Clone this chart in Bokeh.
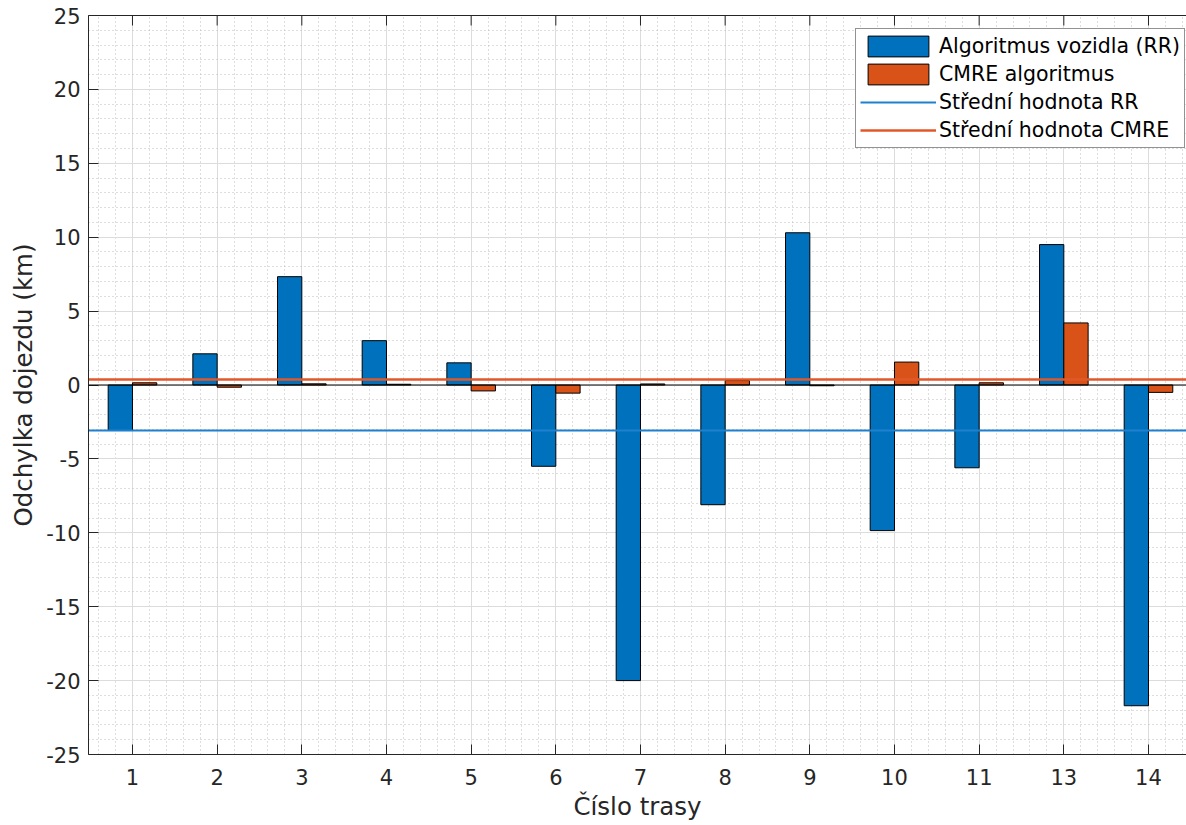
import numpy as np
from bokeh.plotting import figure
from bokeh.models import (Range1d, FixedTicker, LinearAxis, Span, Legend, LegendItem,
                          ColumnDataSource)
from bokeh.embed import file_html
from bokeh.resources import INLINE

# ---- data ----
routes = ["1", "2", "3", "4", "5", "6", "7", "8", "9", "10", "11", "13", "14"]
rr_values = [-3.08, 2.11, 7.33, 3.0, 1.5, -5.5, -20.0, -8.1, 10.3, -9.85, -5.6, 9.5, -21.7]
cmre_values = [0.15, -0.15, 0.08, 0.05, -0.4, -0.55, 0.07, 0.3, -0.05, 1.55, 0.15, 4.2, -0.5]
y_ticks = [-25, -20, -15, -10, -5, 0, 5, 10, 15, 20, 25]

series_names = ["Algoritmus vozidla (RR)", "CMRE algoritmus"]
mean_names = ["Střední hodnota RR", "Střední hodnota CMRE"]

BLUE = "#0072BD"
ORANGE = "#D95319"
AX = "#262626"
FONT = "DejaVu Sans"

pos = np.arange(1, len(routes) + 1)
bw = 0.287
x_start, x_end = 0.4805, 13.449
y_start, y_end = -25, 25
FRAME_H = 739

src = ColumnDataSource(dict(
    xb=pos - bw / 2, xo=pos + bw / 2,
    rr=rr_values, cmre=cmre_values,
))

p = figure(width=1186, height=825, output_backend="svg", toolbar_location=None,
           x_range=Range1d(x_start, x_end), y_range=Range1d(y_start, y_end),
           min_border_left=88, min_border_top=15, min_border_bottom=71,
           min_border_right=0)
p.outline_line_color = None
p.background_fill_color = "white"
p.border_fill_color = "white"

# grids / ticks
minor_x = [v for v in np.arange(0.4, 13.6, 0.2) if abs(v - round(v)) > 1e-6]
p.xaxis.ticker = FixedTicker(ticks=list(pos), minor_ticks=minor_x)
p.xaxis.major_label_overrides = {int(i): r for i, r in zip(pos, routes)}
p.yaxis.ticker = FixedTicker(ticks=y_ticks, minor_ticks=list(range(-25, 26)))
p.yaxis.major_label_overrides = {t: str(t) for t in y_ticks}

for g in (p.xgrid[0], p.ygrid[0]):
    g.grid_line_color = "#dcdcdc"
    g.grid_line_width = 1
    g.minor_grid_line_color = "#bdbdbd"
    g.minor_grid_line_dash = "1 3"
    g.minor_grid_line_width = 1
p.xgrid[0].ticker = p.xaxis[0].ticker
p.ygrid[0].ticker = p.yaxis[0].ticker

for ax in (p.xaxis[0], p.yaxis[0]):
    ax.axis_line_color = AX
    ax.major_tick_line_color = AX
    ax.major_tick_in = 10
    ax.major_tick_out = 0
    ax.minor_tick_in = 0
    ax.minor_tick_out = 0
    ax.major_label_text_font = FONT
    ax.major_label_text_font_size = "21px"
    ax.major_label_text_color = AX
    ax.axis_label_text_font = FONT
    ax.axis_label_text_font_size = "24.5px"
    ax.axis_label_text_font_style = "normal"
    ax.axis_label_text_color = AX

p.xaxis.axis_label = "Číslo trasy"
p.yaxis.axis_label = "Odchylka dojezdu (km)"
p.xaxis.major_label_standoff = 14
p.xaxis.axis_label_standoff = 4
p.yaxis.major_label_standoff = 8
p.yaxis.axis_label_standoff = 5

# top box line (no labels) with inward ticks
top_axis = LinearAxis(ticker=FixedTicker(ticks=[]), axis_line_color=AX,
                      major_tick_in=0, major_tick_out=0, minor_tick_in=0, minor_tick_out=0)
p.add_layout(top_axis, "above")
tick_len = 10 * (y_end - y_start) / FRAME_H
p.segment(x0=pos, y0=[y_end] * len(pos), x1=pos, y1=[y_end - tick_len] * len(pos),
          line_color=AX, line_width=1)

# baseline
p.add_layout(Span(location=0, dimension="width", line_color="black", line_width=1))

# bars
r_rr = p.vbar(x="xb", top="rr", bottom=0, width=bw, source=src,
              fill_color=BLUE, line_color="black", line_width=1)
r_cm = p.vbar(x="xo", top="cmre", bottom=0, width=bw, source=src,
              fill_color=ORANGE, line_color="black", line_width=1)

# mean lines
rr_mean = float(np.mean(rr_values))
cm_mean = float(np.mean(cmre_values))
r_mrr = p.line(x=[x_start, x_end], y=[rr_mean, rr_mean], line_color="#1f80cf", line_width=2)
r_mcm = p.line(x=[x_start, x_end], y=[cm_mean, cm_mean], line_color="#E0582A", line_width=2.5)

legend = Legend(items=[
    LegendItem(label=series_names[0], renderers=[r_rr]),
    LegendItem(label=series_names[1], renderers=[r_cm]),
    LegendItem(label=mean_names[0], renderers=[r_mrr]),
    LegendItem(label=mean_names[1], renderers=[r_mcm]),
], location=(767, 606))
legend.label_text_font = FONT
legend.label_text_font_size = "20.5px"
legend.label_text_color = "black"
legend.glyph_width = 76
legend.glyph_height = 26
legend.label_height = 26
legend.spacing = 2
legend.padding = 4
legend.margin = 0
legend.label_standoff = 3
legend.border_line_color = AX
legend.border_line_width = 1
legend.background_fill_alpha = 1
p.add_layout(legend, "center")

open("out.html", "w").write(file_html(p, INLINE))
